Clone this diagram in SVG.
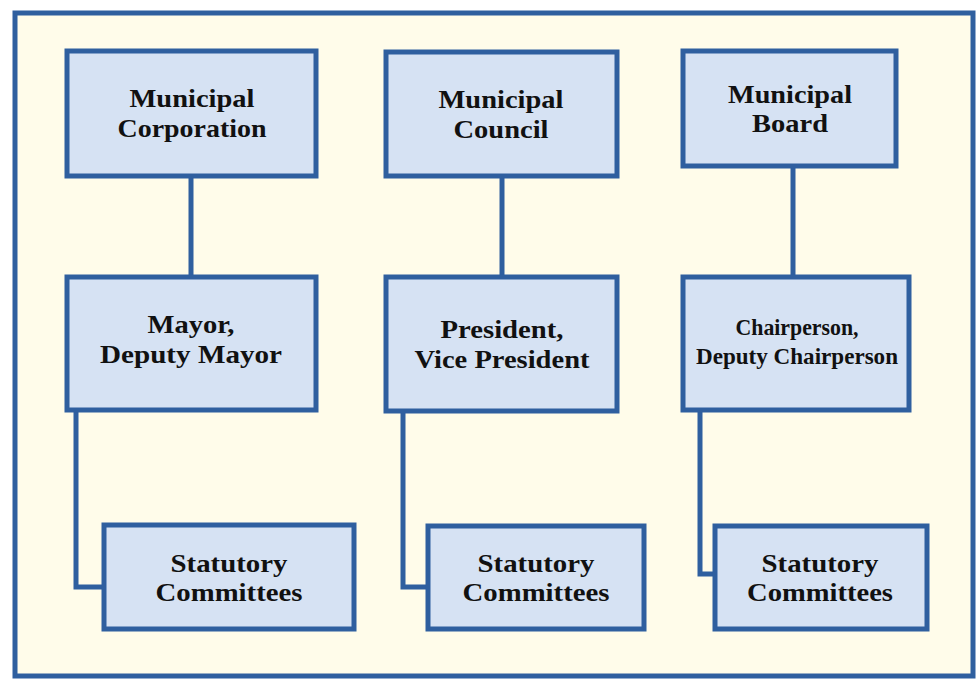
<svg xmlns="http://www.w3.org/2000/svg" width="977" height="679" viewBox="0 0 977 679">
<style>
.box{fill:#d6e2f3;stroke:#2f5f9f;stroke-width:5}
.con{fill:none;stroke:#2f5f9f;stroke-width:5;stroke-linejoin:miter}
text{font-family:"Liberation Serif","Times New Roman",serif;font-weight:bold;font-size:26px;fill:#111;text-anchor:middle}
.sm{font-size:24px}
</style>
<rect x="0" y="0" width="977" height="679" fill="#ffffff"/>
<rect x="15" y="13" width="958" height="663" fill="#fffcea" stroke="#2f5f9f" stroke-width="5"/>
<g id="connectors">
<line class="con" x1="191" y1="176" x2="191" y2="277"/>
<line class="con" x1="502" y1="176" x2="502" y2="277"/>
<line class="con" x1="793" y1="166" x2="793" y2="277"/>
<polyline class="con" points="76,410 76,587 104,587"/>
<polyline class="con" points="403,411 403,587 428,587"/>
<polyline class="con" points="700,410 700,574 715,574"/>
</g>
<g id="municipal-corporation">
<rect class="box" x="67" y="51" width="249" height="125"/>
<text x="192" y="107" textLength="125" lengthAdjust="spacingAndGlyphs">Municipal</text>
<text x="192" y="137" textLength="149" lengthAdjust="spacingAndGlyphs">Corporation</text>
</g>
<g id="mayor">
<rect class="box" x="67" y="277" width="249" height="133"/>
<text x="191" y="333" textLength="87" lengthAdjust="spacingAndGlyphs">Mayor,</text>
<text x="191" y="363" textLength="182" lengthAdjust="spacingAndGlyphs">Deputy Mayor</text>
</g>
<g id="committees-1">
<rect class="box" x="104" y="525" width="250" height="104"/>
<text x="229" y="572" textLength="117" lengthAdjust="spacingAndGlyphs">Statutory</text>
<text x="229" y="601" textLength="147" lengthAdjust="spacingAndGlyphs">Committees</text>
</g>
<g id="municipal-council">
<rect class="box" x="386" y="52" width="231" height="124"/>
<text x="501" y="108" textLength="125" lengthAdjust="spacingAndGlyphs">Municipal</text>
<text x="501" y="138" textLength="95" lengthAdjust="spacingAndGlyphs">Council</text>
</g>
<g id="president">
<rect class="box" x="386" y="277" width="231" height="134"/>
<text x="502" y="338" textLength="123" lengthAdjust="spacingAndGlyphs">President,</text>
<text x="502" y="368" textLength="175" lengthAdjust="spacingAndGlyphs">Vice President</text>
</g>
<g id="committees-2">
<rect class="box" x="428" y="526" width="216" height="103"/>
<text x="536" y="572" textLength="117" lengthAdjust="spacingAndGlyphs">Statutory</text>
<text x="536" y="601" textLength="147" lengthAdjust="spacingAndGlyphs">Committees</text>
</g>
<g id="municipal-board">
<rect class="box" x="683" y="51" width="213" height="115"/>
<text x="790" y="103" textLength="124" lengthAdjust="spacingAndGlyphs">Municipal</text>
<text x="790" y="132" textLength="76" lengthAdjust="spacingAndGlyphs">Board</text>
</g>
<g id="chairperson">
<rect class="box" x="683" y="277" width="226" height="133"/>
<text class="sm" x="797" y="335" textLength="123" lengthAdjust="spacingAndGlyphs">Chairperson,</text>
<text class="sm" x="797" y="364" textLength="202" lengthAdjust="spacingAndGlyphs">Deputy Chairperson</text>
</g>
<g id="committees-3">
<rect class="box" x="715" y="526" width="212" height="103"/>
<text x="820" y="572" textLength="117" lengthAdjust="spacingAndGlyphs">Statutory</text>
<text x="820" y="601" textLength="146" lengthAdjust="spacingAndGlyphs">Committees</text>
</g>
</svg>
